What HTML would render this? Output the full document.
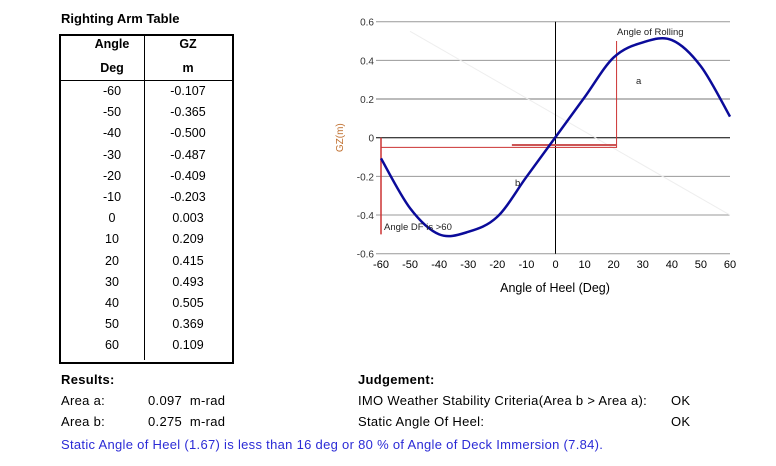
<!DOCTYPE html>
<html><head><meta charset="utf-8"><style>
body{margin:0;width:776px;height:466px;background:#fff;font-family:"Liberation Sans",sans-serif;font-size:12.5px;color:#000;position:relative;overflow:hidden}
.a{position:absolute;white-space:nowrap}
.b{font-weight:bold}
.w{font-size:13px;letter-spacing:0.3px}
</style></head><body>
<div class="a b" style="left:61px;top:11px;font-size:13px">Righting Arm Table</div>
<div class="a" style="left:59px;top:34px;width:171px;height:326px;border:2px solid #000"></div>
<div class="a" style="left:61px;top:80px;width:171px;height:1px;background:#000"></div>
<div class="a" style="left:144px;top:36px;width:1px;height:324px;background:#000"></div>
<div id="tbl"></div>
<div class="a b w" style="left:61px;top:372px">Results:</div>
<div class="a w" style="left:61px;top:393px">Area a:</div>
<div class="a w" style="left:148px;top:393px">0.097&nbsp; m-rad</div>
<div class="a w" style="left:61px;top:414px">Area b:</div>
<div class="a w" style="left:148px;top:414px">0.275&nbsp; m-rad</div>
<div class="a b w" style="left:358px;top:372px">Judgement:</div>
<div class="a w" style="left:358px;top:393px">IMO Weather Stability Criteria(Area b &gt; Area a):</div>
<div class="a w" style="left:671px;top:393px">OK</div>
<div class="a w" style="left:358px;top:414px">Static Angle Of Heel:</div>
<div class="a w" style="left:671px;top:414px">OK</div>
<div class="a w" style="left:61px;top:437px;color:#2b2bd6">Static Angle of Heel (1.67) is less than 16 deg or 80 % of Angle of Deck Immersion (7.84).</div>
<svg id="chart" class="a" style="left:0;top:0" width="776" height="466"></svg>
<script>
const angles=[-60,-50,-40,-30,-20,-10,0,10,20,30,40,50,60];
const gz=[-0.107,-0.365,-0.500,-0.487,-0.409,-0.203,0.003,0.209,0.415,0.493,0.505,0.369,0.109];
const xTicks=[-60,-50,-40,-30,-20,-10,0,10,20,30,40,50,60];
const yTicks=[0.6,0.4,0.2,0,-0.2,-0.4,-0.6];
const yLabels=["0.6","0.4","0.2","0","-0.2","-0.4","-0.6"];
const rollAngle=21, areaLine=-0.05, dfY=-0.5;
const X=v=>381+(v+60)/120*349;
const Y=v=>137.7-v/0.6*116;
const tbl=document.getElementById('tbl');
const hdr=[["Angle",112,37],["GZ",188,37],["Deg",112,61],["m",188,61]];
hdr.forEach(h=>{const d=document.createElement('div');d.className='a b';d.style.left=(h[1]-30)+'px';d.style.width='60px';d.style.textAlign='center';d.style.top=h[2]+'px';d.textContent=h[0];


tbl.appendChild(d);});
angles.forEach((a,i)=>{[[a,112],[gz[i].toFixed(3),188]].forEach(c=>{const d=document.createElement('div');d.className='a';d.style.left=(c[1]-35)+'px';d.style.width='70px';d.style.textAlign='center';d.style.top=(84+i*21.2)+'px';d.textContent=c[0];


tbl.appendChild(d);});});
const s=document.getElementById('chart');const NS='http://www.w3.org/2000/svg';
function el(t,at,txt){const e=document.createElementNS(NS,t);for(const k in at)e.setAttribute(k,at[k]);if(txt!==undefined)e.textContent=txt;s.appendChild(e);return e;}
yTicks.forEach((v,i)=>{const g=el('line',{x1:X(-60)-5,x2:X(60),y1:Y(v),y2:Y(v),stroke:v==0?'#000':(v==0.2?'#bbb':'#999'),'stroke-width':v==0.2?2:1});


const t=el('text',{x:374,y:Y(v)+4,'text-anchor':'end','font-size':10,fill:'#333'},yLabels[i]);

});
xTicks.forEach(v=>{const t=el('text',{x:X(v),y:268,'text-anchor':'middle','font-size':11,fill:'#000'},v);

});
const dg=el('line',{x1:X(-50),y1:Y(0.55),x2:X(60),y2:Y(-0.4),stroke:'#eee','stroke-width':1});


const va=el('line',{x1:X(0),x2:X(0),y1:Y(0.6),y2:Y(-0.6),stroke:'#000'});


const red='#c33';
const r1=el('polyline',{points:`${X(-60)},${Y(0)} ${X(-60)},${Y(dfY)}`,stroke:red,fill:'none','stroke-width':1.5});


const r2=el('polyline',{points:`${X(-60)},${Y(areaLine)} ${X(rollAngle)},${Y(areaLine)} ${X(rollAngle)},${Y(0.5)}`,stroke:red,fill:'none','stroke-width':1});


const r3=el('line',{x1:X(-15),x2:X(rollAngle),y1:Y(-0.038),y2:Y(-0.038),stroke:'#c55','stroke-width':2});


const P=angles.map((a,i)=>[X(a),Y(gz[i])]);
let d=`M${P[0][0]},${P[0][1]}`;
for(let i=0;i<P.length-1;i++){const p0=P[i-1]||P[i],p1=P[i],p2=P[i+1],p3=P[i+2]||p2;
d+=` C${p1[0]+(p2[0]-p0[0])/6},${p1[1]+(p2[1]-p0[1])/6} ${p2[0]-(p3[0]-p1[0])/6},${p2[1]-(p3[1]-p1[1])/6} ${p2[0]},${p2[1]}`;}
const c=el('path',{d:d,stroke:'#0b0b9a','stroke-width':2.5,fill:'none'});


[["Angle of Rolling",617,35,'rolling-label'],["Angle DF is >60",384,230,'angle-df-label'],["a",636,84,'area-a-marker'],["b",515,186,'area-b-marker']].forEach(l=>{const t=el('text',{x:l[1],y:l[2],'font-size':9.5,fill:'#222'},l[0]);

});
const yt=el('text',{x:343,y:Y(0),'font-size':10,fill:'#c07030','text-anchor':'middle',transform:`rotate(-90 343 ${Y(0)})`},'GZ(m)');


const xt=el('text',{x:555,y:292,'font-size':12.5,fill:'#000','text-anchor':'middle'},'Angle of Heel (Deg)');


</script>
</body></html>
